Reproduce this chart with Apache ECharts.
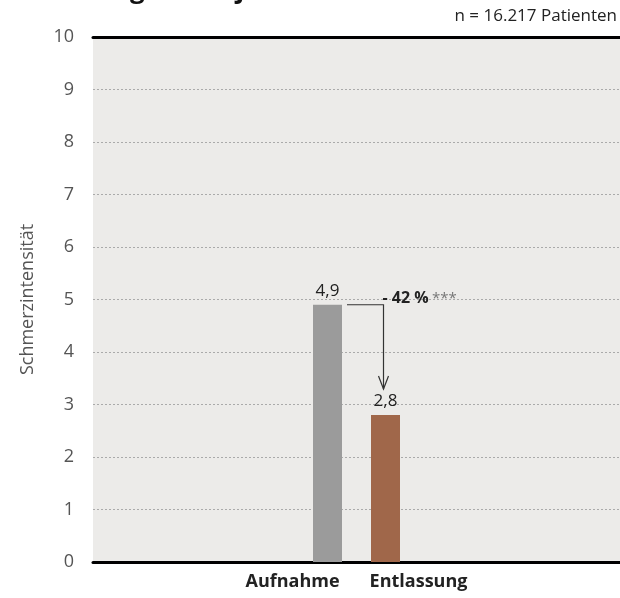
<!DOCTYPE html>
<html>
<head>
<meta charset="utf-8">
<script src="https://cdn.jsdelivr.net/npm/echarts@6/dist/echarts.min.js"></script>
<style>
  html, body { margin: 0; padding: 0; background: #fff; }
  #chart { width: 620px; height: 598px; }
</style>
</head>
<body>
<div id="chart"></div>
<script>
// Mean pain intensity at admission and discharge
const titleText = 'Messung im Vorjahr';
const sampleNote = 'n = 16.217 Patienten';
const axisName = 'Schmerzintensität';
const categories = ['Aufnahme', 'Entlassung'];
const values = [4.9, 2.8];
const barColors = ['#9b9b9b', '#a0674a'];
const changeLabel = '- 42 %';
const significance = '***';
const yTicks = [0, 1, 2, 3, 4, 5, 6, 7, 8, 9, 10];

const FONT = '"Open Sans", "Noto Sans", sans-serif';
const fmt = v => String(v).replace('.', ',');

const chart = echarts.init(document.getElementById('chart'), null, { renderer: 'canvas' });

const series = categories.map((name, i) => ({
  type: 'bar',
  name: name,
  data: [values[i]],
  barWidth: 29,
  barGap: '100%',
  itemStyle: { color: barColors[i] },
  label: {
    show: true,
    position: 'top',
    distance: 5,
    formatter: p => fmt(p.value),
    fontFamily: FONT,
    fontSize: 17,
    color: '#222'
  },
  z: 3
}));

chart.setOption({
  animation: false,
  backgroundColor: '#ffffff',
  textStyle: { fontFamily: FONT },
  grid: {
    left: 93, right: 0, top: 37, bottom: 36,
    show: true, backgroundColor: '#ecebe9', borderWidth: 0
  },
  xAxis: [{
    type: 'category',
    data: ['pair'],
    axisLine: { show: true, lineStyle: { color: '#000', width: 3 } },
    axisTick: { show: false },
    axisLabel: {
      margin: 11,
      formatter: () => '{a|' + categories[0] + '}{gap|}{b|' + categories[1] + '}',
      rich: {
        a: { fontFamily: FONT, fontSize: 18, fontWeight: 'bold', color: '#222' },
        gap: { width: 30 },
        b: { fontFamily: FONT, fontSize: 18, fontWeight: 'bold', color: '#222' }
      }
    }
  }, {
    type: 'category',
    position: 'top',
    data: ['pair'],
    axisLine: { show: true, lineStyle: { color: '#000', width: 3 } },
    axisTick: { show: false },
    axisLabel: { show: false }
  }],
  yAxis: {
    type: 'value',
    min: yTicks[0],
    max: yTicks[yTicks.length - 1],
    interval: 1,
    name: axisName,
    nameLocation: 'middle',
    nameGap: 56,
    nameTextStyle: { fontFamily: FONT, fontSize: 18, color: '#555' },
    axisLine: { show: false },
    axisTick: { show: false },
    axisLabel: { margin: 19, fontFamily: FONT, fontSize: 18, color: '#555' },
    splitLine: { show: true, lineStyle: { color: '#aaa', type: [2, 2], width: 1 } }
  },
  series: series
});

// Change arrow between the two bar tops, placed from the bar layouts
const model = chart.getModel();
const l1 = model.getSeriesByIndex(0).getData().getItemLayout(0);
const l2 = model.getSeriesByIndex(1).getData().getItemLayout(0);
const top1 = Math.min(l1.y, l1.y + l1.height);
const top2 = Math.min(l2.y, l2.y + l2.height);
const xStart = l1.x + l1.width + 5;
const xArrow = l2.x + l2.width / 2 - 2;
const yTip = top2 - 26;
const stroke = { stroke: '#333', lineWidth: 1.2, fill: null };

chart.setOption({
  graphic: [
    {
      type: 'text', left: 30, top: -22,
      style: { text: titleText, font: 'bold 26px ' + FONT, fill: '#111' }
    },
    {
      type: 'text', right: 3, top: 8,
      style: { text: sampleNote, font: '17px ' + FONT, fill: '#222' }
    },
    {
      type: 'polyline', z: 10,
      shape: { points: [[xStart, top1], [xArrow, top1], [xArrow, yTip]] },
      style: stroke
    },
    {
      type: 'polyline', z: 10,
      shape: { points: [[xArrow - 5, yTip - 13], [xArrow, yTip], [xArrow + 5, yTip - 13]] },
      style: stroke
    },
    {
      type: 'text', z: 10, x: xArrow - 1, y: top1 + 2,
      style: {
        text: '{b|' + changeLabel + '} {s|' + significance + '}',
        verticalAlign: 'bottom',
        rich: {
          b: { font: 'bold 16px ' + FONT, fill: '#222' },
          s: { font: '15px ' + FONT, fill: '#777' }
        }
      }
    }
  ]
});
</script>
</body>
</html>
